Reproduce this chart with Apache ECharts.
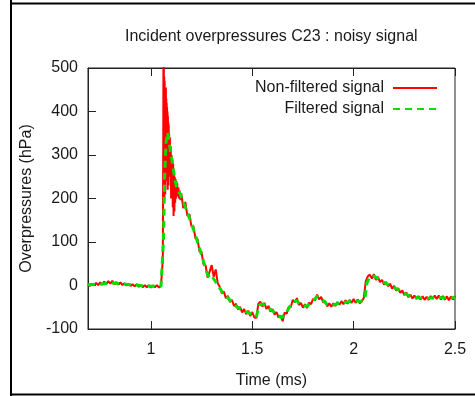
<!DOCTYPE html>
<html>
<head>
<meta charset="utf-8">
<script src="https://cdn.jsdelivr.net/npm/echarts@6/dist/echarts.min.js"></script>
<style>
html,body{margin:0;padding:0;background:#fff;}
#chart{width:475px;height:396px;}
</style>
</head>
<body>
<div id="chart"></div>
<script>
// ---------------- data ----------------
const titleText = 'Incident overpressures C23 : noisy signal';
const xName = 'Time (ms)';
const yName = 'Overpressures (hPa)';
const seriesNames = ['Non-filtered signal', 'Filtered signal'];
const xTicks = [1, 1.5, 2, 2.5];
const xTickLabels = ['1', '1.5', '2', '2.5'];
const yTicks = [-100, 0, 100, 200, 300, 400, 500];

// non-filtered (raw) signal: time (ms) and overpressure (hPa)
const rawTime = [
  0.69,0.70,0.71,0.72,0.73,0.74,0.75,0.76,0.77,0.78,0.79,0.80,0.81,0.82,0.83,0.84,0.85,0.86,0.87,0.88,
  0.89,0.90,0.91,0.92,0.93,0.94,0.95,0.96,0.97,0.98,0.99,1.00,1.01,1.02,1.03,1.04,1.05,
  1.056,1.059,1.061,1.062,1.063,1.064,1.065,1.066,1.067,1.068,1.069,1.070,1.071,1.072,1.073,1.074,1.075,1.076,
  1.077,1.078,1.079,1.080,1.081,1.082,1.083,1.084,1.085,1.086,1.087,1.088,1.089,1.090,1.092,1.094,1.096,1.098,
  1.100,1.102,1.104,1.106,1.108,1.110,1.112,1.114,1.116,1.118,1.120,1.122,1.124,1.126,1.128,1.130,1.133,
  1.136,1.139,1.142,1.146,
  1.15,1.16,1.17,1.18,1.19,1.20,1.21,1.22,1.23,1.24,1.25,1.26,1.27,1.28,1.29,1.30,1.31,1.32,1.33,1.34,
  1.35,1.36,1.37,1.38,1.39,1.40,1.41,1.42,1.43,1.44,1.45,1.46,1.47,1.48,1.49,1.50,1.51,1.52,1.53,1.54,
  1.55,1.56,1.57,1.58,1.59,1.60,1.61,1.62,1.63,1.64,1.65,1.66,1.67,1.68,1.69,1.70,1.71,1.72,1.73,1.74,
  1.75,1.76,1.77,1.78,1.79,1.80,1.81,1.82,1.83,1.84,1.85,1.86,1.87,1.88,1.89,1.90,1.91,1.92,1.93,1.94,
  1.95,1.96,1.97,1.98,1.99,2.00,2.01,2.02,2.03,2.04,2.05,2.06,2.07,2.08,2.09,2.10,2.11,2.12,2.13,2.14,
  2.15,2.16,2.17,2.18,2.19,2.20,2.21,2.22,2.23,2.24,2.25,2.26,2.27,2.28,2.29,2.30,2.31,2.32,2.33,2.34,
  2.35,2.36,2.37,2.38,2.39,2.40,2.41,2.42,2.43,2.44,2.45,2.46,2.47,2.48,2.49,2.50
];
const rawValue = [
  2,-1,4,0,6,1,7,2,9,3,10,4,11,3,8,2,7,1,5,0,
  4,-1,3,-2,3,-3,2,-4,1,-4,1,-5,0,-4,1,-5,0,
  4,60,310,505,260,505,240,480,200,470,260,455,210,440,300,455,250,430,
  320,420,240,410,280,400,220,390,300,375,230,370,260,350,280,340,250,320,
  200,300,230,290,180,280,160,260,170,250,190,245,200,240,210,235,205,
  225,200,218,196,
  212,178,192,160,164,136,136,108,107,78,77,48,46,18,32,47,20,37,5,-3,
  -18,-14,-29,-24,-38,-33,-47,-42,-55,-49,-62,-54,-66,-58,-70,-61,-73,-75,-42,-37,
  -48,-40,-54,-47,-60,-54,-67,-61,-74,-69,-82,-62,-65,-49,-50,-33,-39,-29,-45,-40,
  -51,-43,-52,-39,-43,-31,-34,-21,-32,-26,-39,-36,-48,-41,-49,-41,-47,-38,-44,-36,
  -43,-34,-42,-33,-40,-31,-40,-32,-41,-37,-29,10,21,25,16,26,13,20,8,13,
  2,8,-2,4,-7,-1,-12,-6,-17,-11,-22,-16,-27,-21,-30,-23,-31,-24,-32,-25,
  -33,-26,-33,-24,-31,-23,-31,-23,-32,-24,-33,-25,-34,-25,-32,-24
];

// filtered signal: time (ms) and overpressure (hPa)
const filteredTime = [
  0.69,0.75,0.80,0.85,0.90,0.95,1.00,1.05,1.058,1.062,1.068,1.075,1.083,1.09,1.10,1.11,1.12,1.13,1.145,
  1.16,1.18,1.20,1.22,1.24,1.26,1.28,1.29,1.30,1.32,1.355,1.40,1.424,1.45,1.50,1.52,1.535,1.55,1.58,1.62,
  1.645,1.67,1.70,1.72,1.74,1.77,1.80,1.82,1.84,1.87,1.90,1.93,1.97,2.00,2.03,2.055,2.065,2.08,2.10,2.13,
  2.17,2.20,2.24,2.28,2.32,2.36,2.40,2.44,2.47,2.50
];
const filteredValue = [
  2,3,6,4,2,0,-2,-2,0,100,250,330,352,330,300,270,240,220,210,
  192,168,143,115,86,55,25,18,22,8,-17,-38,-49,-57,-66,-72,-45,-42,-52,-65,
  -74,-60,-38,-35,-45,-48,-35,-25,-30,-44,-45,-40,-38,-35,-37,-33,5,20,22,12,
  2,-5,-15,-25,-28,-30,-27,-28,-30,-27
];

// ---------------- chart ----------------
const rawData = rawTime.map((t, i) => [t, rawValue[i]]);
const filteredData = filteredTime.map((t, i) => [t, filteredValue[i]]);

const axisColor = '#222';
const textColor = '#1a1a1a';
const fontFamily = 'Liberation Sans, Arial, sans-serif';
const fs = 16;

const legendCommon = {
  orient: 'vertical', right: 37, align: 'right',
  itemWidth: 44, itemHeight: 14, itemGap: 0, padding: 0,
  itemStyle: {opacity: 0},
  textStyle: {fontSize: fs, color: textColor, fontFamily: fontFamily, padding: [0, 4, 0, 0]}
};

const chart = echarts.init(document.getElementById('chart'), null, {renderer: 'canvas'});
chart.setOption({
  animation: false,
  backgroundColor: '#fff',
  textStyle: {fontFamily: fontFamily},
  title: {
    text: titleText,
    left: 125, top: 29, padding: 0,
    textStyle: {fontSize: fs, fontWeight: 'normal', color: textColor, fontFamily: fontFamily}
  },
  grid: {left: 88, top: 68, right: 20, bottom: 67, show: true, borderColor: axisColor, borderWidth: 1, backgroundColor: 'transparent'},
  legend: [
    Object.assign({}, legendCommon, {data: [seriesNames[0]], top: 80}),
    Object.assign({}, legendCommon, {data: [seriesNames[1]], top: 101})
  ],
  xAxis: [
    {
      type: 'value', min: 0.69, max: 2.5, position: 'bottom',
      name: xName, nameLocation: 'middle', nameGap: 44,
      nameTextStyle: {fontSize: fs, color: textColor, fontFamily: fontFamily},
      axisLine: {show: true, onZero: false, lineStyle: {color: axisColor, width: 1}},
      axisTick: {show: true, inside: true, length: 8, customValues: xTicks, lineStyle: {color: axisColor}},
      axisLabel: {show: true, margin: 13, fontSize: fs, color: textColor, customValues: xTicks,
        formatter: v => xTickLabels[xTicks.indexOf(v)] ?? String(v)},
      splitLine: {show: false}
    },
    {
      type: 'value', min: 0.69, max: 2.5, position: 'top',
      axisLine: {show: true, onZero: false, lineStyle: {color: axisColor, width: 1}},
      axisTick: {show: true, inside: true, length: 8, customValues: xTicks, lineStyle: {color: axisColor}},
      axisLabel: {show: false},
      splitLine: {show: false}
    }
  ],
  yAxis: {
    type: 'value', min: -100, max: 500, interval: 100,
    name: yName, nameLocation: 'middle', nameGap: 53,
    nameTextStyle: {fontSize: fs, color: textColor, fontFamily: fontFamily},
    axisLine: {show: true, onZero: false, lineStyle: {color: axisColor, width: 1}},
    axisTick: {show: true, inside: true, length: 8, lineStyle: {color: axisColor}},
    axisLabel: {show: true, margin: 10, fontSize: fs, color: textColor},
    splitLine: {show: false}
  },
  series: [
    {
      name: seriesNames[0], type: 'line', xAxisIndex: 0, data: rawData,
      symbol: 'none', showSymbol: false, clip: true,
      lineStyle: {color: '#ff0000', width: 2},
      itemStyle: {color: '#ff0000'}
    },
    {
      name: seriesNames[1], type: 'line', xAxisIndex: 0, data: filteredData,
      symbol: 'none', showSymbol: false, clip: true,
      lineStyle: {color: '#00e000', width: 3, type: [7, 5]},
      itemStyle: {color: '#00e000'}
    }
  ],
  graphic: [
    {type: 'line', shape: {x1: 11, y1: 0, x2: 11, y2: 396}, style: {stroke: '#000', lineWidth: 2}, silent: true},
    {type: 'line', shape: {x1: 10, y1: 3.5, x2: 475, y2: 3.5}, style: {stroke: '#000', lineWidth: 2}, silent: true},
    {type: 'line', shape: {x1: 10, y1: 394.5, x2: 475, y2: 394.5}, style: {stroke: '#000', lineWidth: 2}, silent: true}
  ]
});
</script>
</body>
</html>
